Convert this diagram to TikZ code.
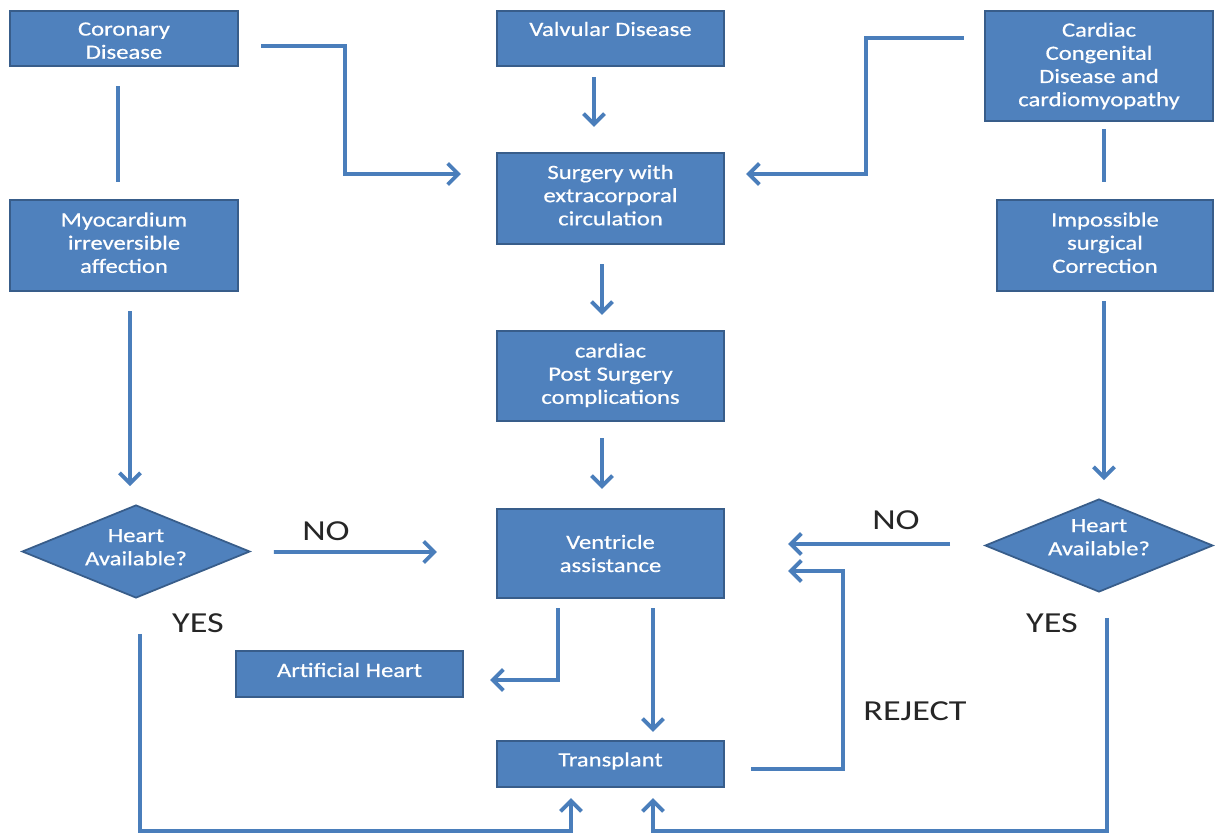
\documentclass[tikz,border=0pt]{standalone}
\usepackage{fontspec}
\setmainfont{Carlito}[FakeStretch=1.22, FakeBold=0.6]
\newfontfamily\labfont{Carlito}[FakeStretch=1.25]
\usetikzlibrary{arrows.meta,shapes.geometric,calc}
\definecolor{boxfill}{HTML}{4F81BD}
\definecolor{boxdraw}{HTML}{385D8A}
\definecolor{linec}{HTML}{4A7EBB}
\newcommand{\uptext}[2]{\raisebox{#1}[\height][\depth]{\begin{tabular}{@{}c@{}}#2\end{tabular}}}
\newcommand{\upone}[2]{\raisebox{#1}[\height][\depth]{#2}}
\begin{document}
\begin{tikzpicture}[x=0.02cm,y=-0.02cm,
  box/.style={draw=boxdraw, fill=boxfill, line width=1.2pt, text=white, align=center,
    font=\fontsize{11.5}{13.2}\selectfont, inner sep=0pt},
  dia/.style={diamond, draw=boxdraw, fill=boxfill, line width=1pt, text=white, align=center,
    font=\fontsize{11.5}{13.2}\selectfont, inner sep=0pt, aspect=2.45,
    minimum width=4.56cm, minimum height=1.86cm},
  conn/.style={draw=linec, line width=2.2pt},
  arr/.style={conn, -{Straight Barb[length=6pt,width=12pt]}},
  lbl/.style={font=\labfont\fontsize{16.5}{18}\selectfont, text=black!85, inner sep=0pt}]
\useasboundingbox (0,0) rectangle (1221,834);

% nodes
\node[box, minimum width=4.56cm, minimum height=1.10cm] (cor) at (124,38.5) {\uptext{-0.08cm}{Coronary\\Disease}};
\node[box, minimum width=4.54cm, minimum height=1.10cm] (valv) at (610.5,38.5) {\upone{0.19cm}{Valvular Disease}};
\node[box, minimum width=4.56cm, minimum height=2.20cm] (card) at (1099,66) {Cardiac\\Congenital\\Disease and\\cardiomyopathy};
\node[box, minimum width=4.54cm, minimum height=1.82cm] (surg) at (610.5,198.5) {\uptext{0.02cm}{Surgery with\\extracorporal\\circulation}};
\node[box, minimum width=4.56cm, minimum height=1.82cm] (myo) at (124,245.5) {\uptext{0.01cm}{Myocardium\\irreversible\\affection}};
\node[box, minimum width=4.32cm, minimum height=1.82cm] (imp) at (1105,245.5) {\uptext{0.01cm}{Impossible\\surgical\\Correction}};
\node[box, minimum width=4.54cm, minimum height=1.80cm] (post) at (610.5,376) {\uptext{0cm}{cardiac\\Post Surgery\\complications}};
\node[box, minimum width=4.54cm, minimum height=1.78cm] (vent) at (610.5,553.5) {Ventricle\\assistance};
\node[box, minimum width=4.54cm, minimum height=0.92cm] (art) at (349.5,674) {\upone{0.08cm}{Artificial Heart}};
\node[box, minimum width=4.54cm, minimum height=0.92cm] (trans) at (610.5,764) {\upone{0.06cm}{Transplant}};
\node[dia] (hl) at (136,551.5) {\uptext{0.05cm}{Heart\\Available?}};
\node[dia] (hr) at (1099,545.5) {\uptext{0.13cm}{Heart\\Available?}};

% labels
\node[lbl] (nol) at (326,531) {NO};
\node[lbl] (nor) at (896,520) {NO};
\node[lbl] (yesl) at (198,623) {YES};
\node[lbl] (yesr) at (1052,623) {YES};
\node[lbl] (rej) at (915,711) {REJECT};

% connectors
\draw[arr] ($(cor.east)+(22,7.5)$) -- ++(84,0) |- ($(surg.west)+(-35,-24.5)$);
\draw[arr] ($(card.west)+(-20,-28)$) -- ++(-98,0) |- ($(surg.east)+(21,-24.5)$);
\draw[arr] ($(valv.south)+(-16.5,10)$) -- ($(surg.north)+(-16.5,-25)$);
\draw[conn] ($(cor.south)+(-6,19)$) -- ($(myo.north)+(-6,-17)$);
\draw[arr] ($(myo.south)+(6,19)$) -- ($(hl.north)+(-6,-18)$);
\draw[arr] ($(surg.south)+(-8.5,19)$) -- ($(post.north)+(-8.5,-15)$);
\draw[arr] ($(post.south)+(-8.5,16)$) -- ($(vent.north)+(-8.5,-19)$);
\draw[conn] ($(card.south)+(5,7)$) -- ($(imp.north)+(-1,-17)$);
\draw[arr] ($(imp.south)+(-1,9)$) -- ($(hr.north)+(5,-18)$);
\draw[arr] ($(hl.east)+(23,0.5)$) -- ($(vent.west)+(-59,-1.5)$);
\draw[arr] ($(hr.west)+(-34,-1.5)$) -- ($(vent.east)+(63,-9.5)$);
\draw[arr] ($(vent.south)+(-52.5,9)$) |- ($(art.east)+(26,6)$);
\draw[arr] ($(vent.south)+(42.5,9)$) -- ($(trans.north)+(42.5,-8)$);
\draw[arr] ($(trans.east)+(26,5)$) -- ++(92,0) |- ($(vent.east)+(63,17.5)$);
\draw[arr] ($(hl.south)+(4,35)$) -- ++(0,197) -| ($(trans.south)+(-39.5,10)$);
\draw[arr] ($(hr.south)+(8,25)$) -- ++(0,213) -| ($(trans.south)+(42.5,10)$);
\end{tikzpicture}
\end{document}
